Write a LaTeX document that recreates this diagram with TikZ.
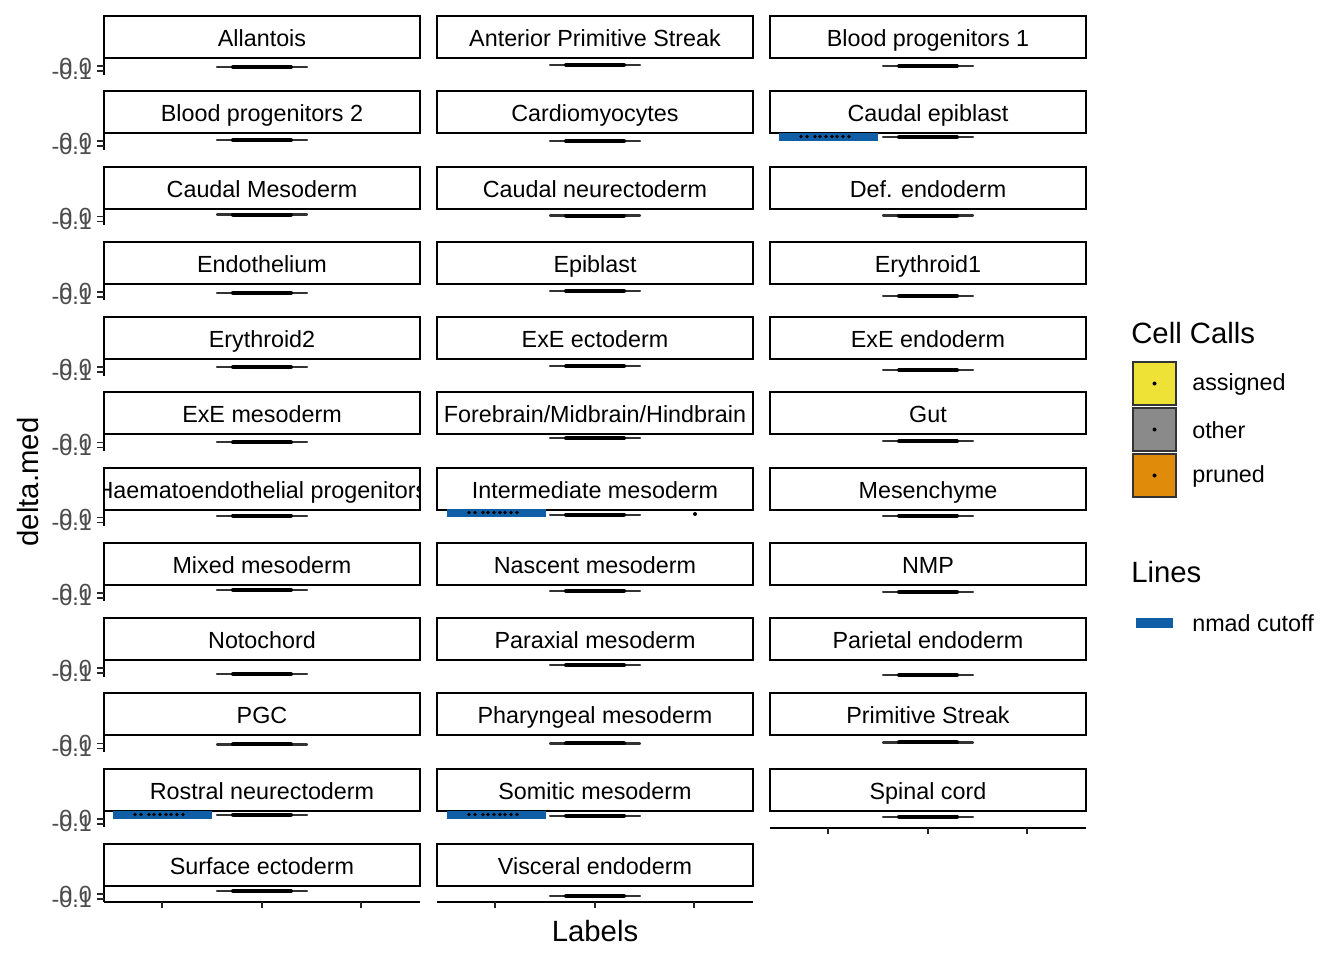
\documentclass[tikz,border=0pt]{standalone}
\usepackage{fontspec}
\setmainfont{Liberation Sans}
\usetikzlibrary{positioning}
\definecolor{cutblue}{RGB}{16,94,166}
\definecolor{asgyellow}{RGB}{239,226,54}
\definecolor{othgray}{RGB}{138,138,138}
\definecolor{prnorange}{RGB}{224,140,10}
\definecolor{tickgray}{RGB}{77,77,77}

\begin{document}
\begin{tikzpicture}[x=0.75pt,y=-0.75pt,
  stripbox/.style={draw=black,line width=1.5pt},
  striplab/.style={font=\fontsize{17.5}{20}\selectfont,inner sep=0pt,anchor=base},
  ticklab/.style={font=\fontsize{17.5}{20}\selectfont,text=tickgray,inner sep=0pt,anchor=east},
  axisline/.style={line width=1.5pt,draw=black},
  tickmark/.style={line width=1.2pt,draw=black!85},
  violin/.style={line width=1.6pt,draw=black!80,line cap=round},
  violincore/.style={line width=3pt,draw=black,line cap=round},
  cutoff/.style={fill=cutblue},
  keybox/.style={draw=black!80,line width=1.8pt},
  titlelab/.style={font=\fontsize{22}{26}\selectfont,inner sep=0pt},
  leglab/.style={font=\fontsize{17.5}{20}\selectfont,inner sep=0pt,anchor=west}]

  \useasboundingbox (0,0) rectangle (1344,960);

  \def\w{316};
  \def\h{42};

  %strips and violins
  \foreach \c/\r/\lab/\dy in {0/0/Allantois/9, 1/0/Anterior Primitive Streak/7, 2/0/Blood progenitors 1/8,
      0/1/Blood progenitors 2/7, 1/1/Cardiomyocytes/8, 2/1/Caudal epiblast/4,
      0/2/Caudal Mesoderm/6, 1/2/Caudal neurectoderm/7, 2/2/Def. endoderm/7,
      0/3/Endothelium/9, 1/3/Epiblast/7, 2/3/Erythroid1/12,
      0/4/Erythroid2/8, 1/4/ExE ectoderm/7, 2/4/ExE endoderm/11,
      0/5/ExE mesoderm/8, 1/5/{Forebrain/Midbrain/Hindbrain}/4, 2/5/Gut/7,
      0/6/Haematoendothelial progenitors/6, 1/6/Intermediate mesoderm/5, 2/6/Mesenchyme/6,
      0/7/Mixed mesoderm/5, 1/7/Nascent mesoderm/6, 2/7/NMP/7,
      0/8/Notochord/14, 1/8/Paraxial mesoderm/5, 2/8/Parietal endoderm/15,
      0/9/PGC/9, 1/9/Pharyngeal mesoderm/8, 2/9/Primitive Streak/7,
      0/10/Rostral neurectoderm/4, 1/10/Somitic mesoderm/5, 2/10/Spinal cord/6,
      0/11/Surface ectoderm/5, 1/11/Visceral endoderm/10}{
    \pgfmathsetmacro\xl{104+\c*333}
    \pgfmathsetmacro\yt{16+\r*75.27}
    \pgfmathsetmacro\vy{\yt+\h+\dy}
    \begin{scope}
      \clip (\xl,\yt) rectangle ++(\w,\h);
      \node[striplab] (s\c\r) at (\xl+\w/2,\yt+30.5) {\lab};
    \end{scope}
    \draw[stripbox] (\xl,\yt) rectangle ++(\w,\h);
    \draw[violin] (\xl+113,\vy) -- (\xl+203,\vy);
    \draw[violincore] (\xl+129,\vy) -- (\xl+187,\vy);
  }

  %nmad cutoff
  \foreach \xa/\ya in {779/133, 447/509, 113/811, 447/811}{
    \fill[cutoff] (\xa,\ya) rectangle ++(99,7.5);
    \foreach \k in {22,28,36,41,47,53,58,64,70}
      \fill (\xa+\k,\ya+3.5) circle (1.9);
  }
  \fill (695,514) circle (2);

  %y axis
  \foreach \r in {0,...,11}{
    \pgfmathsetmacro\yb{16+\r*75.27+\h}
    \draw[axisline] (104,\yb) -- (104,\yb+16.5);
    \draw[tickmark] (97,\yb+8) -- (104,\yb+8);
    \draw[tickmark] (97,\yb+13) -- (104,\yb+13);
    \node[ticklab] (ya\r) at (92,\yb+8) {0.0};
    \node[ticklab] (yb\r) at (92,\yb+13) {-0.1};
  }

  %x axis
  \foreach \xl/\yb in {104/902, 437/902, 770/828}{
    \draw[axisline] (\xl,\yb) -- (\xl+\w,\yb);
    \foreach \t in {58,158,257}
      \draw[tickmark] (\xl+\t,\yb) -- (\xl+\t,\yb+6);
  }

  \node[titlelab] (xtitle) at (595,931) {Labels};
  \node[titlelab,rotate=90] (ytitle) at (28,482) {delta.med};

  %legend
  \node[titlelab,anchor=west] (calls) at (1131,333) {Cell Calls};
  \foreach \i/\col/\txt in {0/asgyellow/assigned, 1/othgray/other, 2/prnorange/pruned}{
    \draw[keybox,fill=\col] (1133,362+\i*46) rectangle ++(43,43);
    \fill (1154.5,383.5+\i*46) circle (2);
    \node[leglab] (k\i) at (1192,384+\i*46) {\txt};
  }
  \node[titlelab,anchor=west] (lines) at (1131,572) {Lines};
  \fill[cutoff] (1136,617.5) rectangle ++(37,10);
  \node[leglab] (knmad) at (1192,623) {nmad cutoff};

\end{tikzpicture}
\end{document}
